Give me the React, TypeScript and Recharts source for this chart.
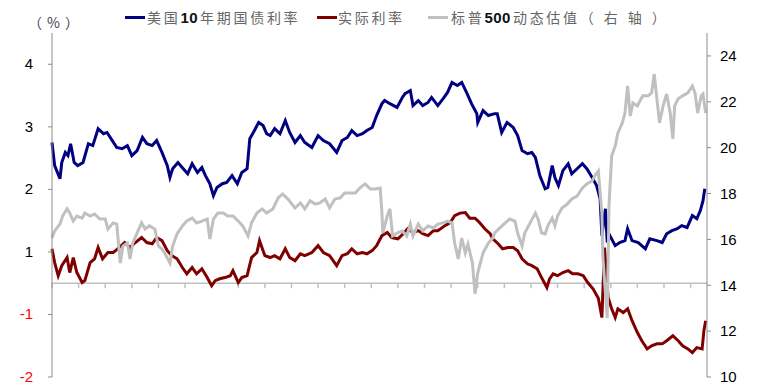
import { Line, LineChart, ReferenceLine, XAxis, YAxis } from "recharts";

// months since Jan 2015, value
const us10y: [number, number][] = [
    [0, 2.25], [0.3, 1.88], [0.9, 1.67], [1.1, 1.93], [1.5, 2.09], [1.8, 2.04], [2.1, 2.23], [2.5, 1.93],
    [2.9, 1.88], [3.5, 1.93], [4.1, 2.23], [4.6, 2.2], [5.2, 2.47], [5.8, 2.39], [6.2, 2.41], [6.8, 2.28],
    [7.3, 2.17], [7.9, 2.15], [8.5, 2.2], [9.0, 2.04], [9.6, 2.12], [10.2, 2.33], [10.7, 2.23], [11.3, 2.2],
    [11.8, 2.28], [12.4, 2.09], [13.0, 1.88], [13.3, 1.69], [13.6, 1.83], [14.2, 1.93], [14.8, 1.83], [15.3, 1.75],
    [15.8, 1.91], [16.4, 1.77], [16.9, 1.85], [17.3, 1.72], [17.8, 1.59], [18.2, 1.4], [18.6, 1.53], [19.2, 1.59],
    [19.7, 1.61], [20.3, 1.72], [20.9, 1.59], [21.4, 1.77], [22.0, 1.83], [22.3, 2.31], [22.7, 2.41], [23.3, 2.57],
    [23.8, 2.52], [24.2, 2.39], [24.6, 2.36], [25.1, 2.47], [25.7, 2.39], [26.3, 2.6], [26.8, 2.41], [27.4, 2.25],
    [28.0, 2.36], [28.5, 2.25], [29.3, 2.17], [30.0, 2.36], [30.6, 2.28], [31.3, 2.23], [32.1, 2.09], [32.7, 2.28],
    [33.3, 2.33], [33.8, 2.44], [34.4, 2.36], [35.0, 2.39], [35.5, 2.44], [36.1, 2.49], [36.6, 2.68], [37.2, 2.87],
    [37.5, 2.92], [38.1, 2.87], [38.9, 2.81], [39.5, 2.97], [39.8, 3.03], [40.4, 3.08], [40.7, 2.84], [41.3, 2.92],
    [41.8, 2.84], [42.4, 2.89], [42.8, 2.97], [43.5, 2.84], [44.1, 2.95], [44.6, 3.05], [45.1, 3.21], [45.7, 3.16],
    [46.2, 3.21], [46.8, 3.03], [47.3, 2.87], [47.9, 2.71], [48.0, 2.57], [48.6, 2.76], [49.2, 2.68], [49.9, 2.71],
    [50.2, 2.71], [50.7, 2.41], [51.3, 2.57], [52.0, 2.49], [52.5, 2.36], [53.0, 2.12], [53.6, 2.07], [54.1, 2.09],
    [54.5, 2.01], [55.0, 1.72], [55.6, 1.51], [55.9, 1.53], [56.4, 1.88], [56.7, 1.69], [57.1, 1.56], [57.6, 1.8],
    [58.2, 1.91], [58.6, 1.75], [59.2, 1.83], [59.8, 1.91], [60.3, 1.83], [60.9, 1.69], [61.4, 1.56], [61.8, 1.35],
    [62.0, 0.76], [62.4, 1.19], [62.6, 0.65], [62.9, 0.76], [63.5, 0.6], [64.0, 0.65], [64.6, 0.68], [64.9, 0.87],
    [65.4, 0.68], [66.1, 0.65], [66.9, 0.55], [67.4, 0.71], [68.2, 0.68], [68.8, 0.65], [69.3, 0.79], [69.9, 0.84],
    [70.5, 0.87], [71.0, 0.92], [71.6, 0.89], [72.2, 1.08], [72.7, 1.03], [73.1, 1.16], [73.4, 1.32], [73.6, 1.51],
];

const realRate: [number, number][] = [
    [0, 0.55], [0.3, 0.33], [0.7, 0.12], [1.1, 0.28], [1.7, 0.41], [2.0, 0.17], [2.4, 0.41], [2.8, 0.17],
    [3.4, 0.01], [3.7, 0.04], [4.3, 0.33], [4.8, 0.39], [5.2, 0.57], [5.7, 0.39], [6.3, 0.49], [6.9, 0.49],
    [7.4, 0.55], [8.2, 0.65], [8.8, 0.57], [9.4, 0.65], [10.1, 0.73], [10.7, 0.65], [11.3, 0.63], [11.8, 0.73],
    [12.4, 0.68], [13.0, 0.52], [13.5, 0.44], [14.1, 0.39], [14.7, 0.25], [15.2, 0.15], [15.8, 0.25], [16.3, 0.15],
    [16.9, 0.23], [17.5, 0.09], [18.0, -0.04], [18.4, 0.04], [18.9, 0.07], [19.5, 0.09], [20.1, 0.12], [20.4, 0.2],
    [21.0, 0.01], [21.4, 0.09], [22.0, 0.12], [22.5, 0.41], [23.1, 0.49], [23.4, 0.68], [24.0, 0.44], [24.6, 0.41],
    [25.1, 0.44], [25.7, 0.39], [26.3, 0.55], [26.8, 0.41], [27.4, 0.36], [28.0, 0.47], [28.5, 0.44], [29.3, 0.49],
    [30.0, 0.6], [30.6, 0.49], [31.3, 0.44], [32.1, 0.28], [32.7, 0.44], [33.3, 0.47], [33.8, 0.55], [34.4, 0.47],
    [35.0, 0.49], [35.5, 0.47], [36.1, 0.52], [36.6, 0.6], [37.2, 0.76], [37.8, 0.81], [38.3, 0.73], [39.0, 0.71],
    [39.6, 0.79], [40.1, 0.87], [40.7, 0.81], [41.3, 0.84], [41.8, 0.79], [42.4, 0.76], [43.0, 0.84], [43.5, 0.84],
    [44.3, 0.92], [44.9, 0.97], [45.4, 1.08], [46.0, 1.12], [46.6, 1.13], [47.1, 1.04], [47.7, 1.04], [48.2, 0.97],
    [48.8, 0.87], [49.4, 0.79], [49.7, 0.71], [50.3, 0.63], [50.8, 0.55], [51.4, 0.57], [52.0, 0.57], [52.5, 0.52],
    [53.0, 0.39], [53.6, 0.31], [54.1, 0.28], [54.7, 0.23], [55.2, 0.09], [55.8, -0.07], [56.1, 0.07], [56.5, 0.15],
    [57.0, 0.12], [57.6, 0.17], [58.2, 0.2], [58.7, 0.15], [59.3, 0.15], [59.9, 0.12], [60.4, 0.01], [61.0, -0.09],
    [61.6, -0.24], [62.0, -0.55], [62.3, 0.57], [62.7, -0.23], [63.1, -0.41], [63.5, -0.55], [63.8, -0.41], [64.4, -0.47],
    [64.9, -0.41], [65.4, -0.6], [66.0, -0.79], [66.5, -0.92], [67.1, -1.05], [67.6, -1.0], [68.2, -0.97], [68.8, -0.97],
    [69.3, -0.92], [70.0, -0.84], [70.6, -0.92], [71.1, -1.0], [71.7, -1.05], [72.2, -1.11], [72.7, -1.03], [73.3, -1.05],
    [73.5, -0.76], [73.7, -0.6],
];

const spxPe: [number, number][] = [
    [0, 16.06], [0.3, 16.37], [0.9, 16.67], [1.2, 17.02], [1.7, 17.33], [2.0, 17.15], [2.4, 16.8], [2.8, 17.02],
    [3.4, 16.93], [3.7, 17.15], [4.3, 17.02], [4.8, 17.11], [5.4, 16.89], [6.0, 16.89], [6.3, 16.45], [6.9, 16.72],
    [7.3, 16.67], [7.7, 14.97], [8.0, 15.71], [8.5, 15.84], [8.8, 15.15], [9.1, 15.84], [9.7, 16.37], [10.1, 16.72],
    [10.5, 16.45], [11.0, 16.59], [11.6, 16.45], [12.0, 15.71], [12.4, 15.58], [12.7, 15.41], [13.3, 14.97], [13.6, 15.71],
    [14.1, 16.24], [14.7, 16.59], [15.2, 16.8], [15.8, 16.93], [16.3, 16.72], [16.9, 16.8], [17.5, 16.89], [17.8, 16.02],
    [18.2, 16.89], [18.7, 17.15], [19.3, 17.15], [19.8, 17.02], [20.4, 17.02], [21.0, 16.8], [21.5, 16.59], [22.1, 16.15],
    [22.5, 16.72], [23.1, 17.15], [23.7, 17.33], [24.2, 17.15], [24.9, 17.33], [25.5, 17.81], [26.0, 17.98], [26.6, 17.76],
    [27.4, 17.37], [28.0, 17.59], [28.5, 17.33], [29.1, 17.68], [29.7, 17.54], [30.2, 17.59], [30.8, 17.76], [31.3, 17.37],
    [31.9, 17.76], [32.5, 17.81], [33.0, 18.02], [33.6, 18.02], [34.2, 18.02], [34.7, 18.24], [35.3, 18.42], [35.9, 18.2],
    [36.4, 18.2], [37.0, 18.24], [37.2, 17.15], [37.3, 16.28], [37.8, 17.02], [38.1, 17.33], [38.4, 16.15], [38.9, 16.28],
    [39.5, 16.37], [40.0, 16.15], [40.4, 16.67], [40.7, 16.15], [41.3, 16.67], [41.8, 16.37], [42.4, 16.59], [43.0, 16.5],
    [43.5, 16.67], [44.1, 16.72], [44.6, 16.8], [45.1, 16.72], [45.4, 15.84], [45.8, 15.15], [46.2, 16.06], [46.6, 15.41],
    [46.9, 15.8], [47.4, 14.97], [47.7, 13.62], [48.0, 14.54], [48.6, 15.41], [49.2, 15.84], [49.7, 16.06], [49.9, 16.28],
    [50.5, 16.5], [51.1, 16.72], [51.6, 16.89], [52.2, 16.8], [52.5, 16.28], [53.0, 15.71], [53.3, 16.28], [53.9, 16.72],
    [54.5, 17.15], [54.8, 16.89], [55.2, 16.28], [55.6, 16.24], [55.9, 16.59], [56.4, 16.93], [56.7, 16.59], [57.0, 17.02],
    [57.5, 17.37], [58.1, 17.54], [58.6, 17.76], [59.2, 17.89], [59.8, 18.24], [60.3, 18.42], [60.9, 18.55], [61.2, 18.77],
    [61.6, 18.98], [61.8, 18.02], [62.0, 17.15], [62.1, 15.28], [62.6, 12.57], [62.8, 17.46], [63.1, 19.64], [63.5, 20.07],
    [63.8, 20.64], [64.3, 21.08], [64.6, 21.51], [64.9, 22.69], [65.2, 21.38], [65.5, 21.95], [66.0, 21.82], [66.3, 22.04],
    [66.6, 22.26], [67.2, 22.26], [67.6, 22.39], [67.9, 23.21], [68.2, 22.13], [68.5, 21.08], [68.9, 21.82], [69.3, 22.34],
    [69.7, 21.51], [70.0, 20.38], [70.2, 21.82], [70.6, 22.13], [71.1, 22.26], [71.7, 22.39], [72.2, 22.69], [72.5, 22.39],
    [72.8, 21.51], [73.2, 22.26], [73.4, 22.34], [73.7, 21.51],
];

const leftTickValues = [-1.5, -0.5, 0.5, 1.5, 2.5, 3.5];
const leftTickLabels = ["-2", "-1", "1", "2", "3", "4"];
const rightTicks = [10, 12, 14, 16, 18, 20, 22, 24];
const quarterTicks = [0, 3, 6, 9, 12, 15, 18, 21, 24, 27, 30, 33, 36, 39, 42, 45, 48, 51, 54, 57, 60, 63, 66, 69, 72];

const toPoints = (rows: [number, number][]) => rows.map(([t, v]) => ({ t, v }));

const FONT = "'Liberation Sans', Arial, sans-serif";
const CJK = "'Noto Sans CJK SC', 'Liberation Sans', sans-serif";

const LeftTick = (props: any) => {
    const { x, y, payload } = props;
    const idx = leftTickValues.indexOf(payload.value);
    return (
        <text
            x={x}
            y={y}
            dy={5}
            textAnchor="end"
            fontSize={15}
            fontFamily={FONT}
            fill={payload.value < 0 ? "#ff0000" : "#000000"}
        >
            {leftTickLabels[idx]}
        </text>
    );
};

const legendText: React.CSSProperties = {
    position: "absolute",
    top: 9,
    fontSize: 14,
    lineHeight: "16px",
    letterSpacing: 2.7,
    color: "#666666",
    fontFamily: CJK,
    whiteSpace: "nowrap",
};

const Num = ({ children }: { children: string }) => (
    <span style={{ fontFamily: FONT, fontWeight: "bold", fontSize: 15, letterSpacing: 0.5, color: "#111111", marginRight: 2 }}>
        {children}
    </span>
);

const Dash = ({ left, color }: { left: number; color: string }) => (
    <div style={{ position: "absolute", left, top: 16, width: 20, height: 3, background: color }} />
);

export default function App() {
    return (
        <div style={{ position: "absolute", left: 0, top: 0, width: 776, height: 387, background: "#fff" }}>
            <LineChart width={776} height={387} margin={{ top: 33, right: 19, bottom: 10, left: 0 }}>
                <XAxis dataKey="t" type="number" domain={[0, 73.85]} hide />
                <YAxis
                    yAxisId="left"
                    width={52}
                    domain={[-1.5, 4]}
                    ticks={leftTickValues}
                    interval={0}
                    stroke="#8c8c8c"
                    tickSize={4}
                    tickMargin={15}
                    tick={LeftTick}
                />
                <YAxis
                    yAxisId="right"
                    orientation="right"
                    width={50}
                    domain={[10, 25]}
                    ticks={rightTicks}
                    interval={0}
                    stroke="#8c8c8c"
                    tickSize={4}
                    tickMargin={9}
                    tick={{ fill: "#000000", fontSize: 15, fontFamily: FONT }}
                />
                <ReferenceLine yAxisId="left" y={0} stroke="#c0c0c0" strokeWidth={1.5} />
                {quarterTicks.map((t) => (
                    <ReferenceLine
                        key={t}
                        yAxisId="left"
                        segment={[
                            { x: t, y: 0 },
                            { x: t, y: -0.08 },
                        ]}
                        stroke="#c0c0c0"
                        strokeWidth={1.5}
                    />
                ))}
                <Line
                    yAxisId="left"
                    data={toPoints(us10y)}
                    dataKey="v"
                    type="linear"
                    stroke="#000080"
                    strokeWidth={3}
                    dot={false}
                    isAnimationActive={false}
                />
                <Line
                    yAxisId="left"
                    data={toPoints(realRate)}
                    dataKey="v"
                    type="linear"
                    stroke="#800000"
                    strokeWidth={3}
                    dot={false}
                    isAnimationActive={false}
                />
                <Line
                    yAxisId="right"
                    data={toPoints(spxPe)}
                    dataKey="v"
                    type="linear"
                    stroke="#c0c0c0"
                    strokeWidth={3}
                    dot={false}
                    isAnimationActive={false}
                />
            </LineChart>

            <div
                style={{
                    position: "absolute",
                    left: 28,
                    top: 14,
                    fontSize: 14,
                    lineHeight: "16px",
                    letterSpacing: 5,
                    color: "#444444",
                    fontFamily: CJK,
                }}
            >
                （%）
            </div>

            <Dash left={125} color="#000080" />
            <div style={{ ...legendText, left: 147 }}>
                美国<Num>10</Num>年期国债利率
            </div>
            <Dash left={317} color="#800000" />
            <div style={{ ...legendText, left: 338 }}>实际利率</div>
            <Dash left={428} color="#c0c0c0" />
            <div style={{ ...legendText, left: 451 }}>
                标普<Num>500</Num>动态估值<span style={{ letterSpacing: 10 }}>（右轴）</span>
            </div>
        </div>
    );
}
